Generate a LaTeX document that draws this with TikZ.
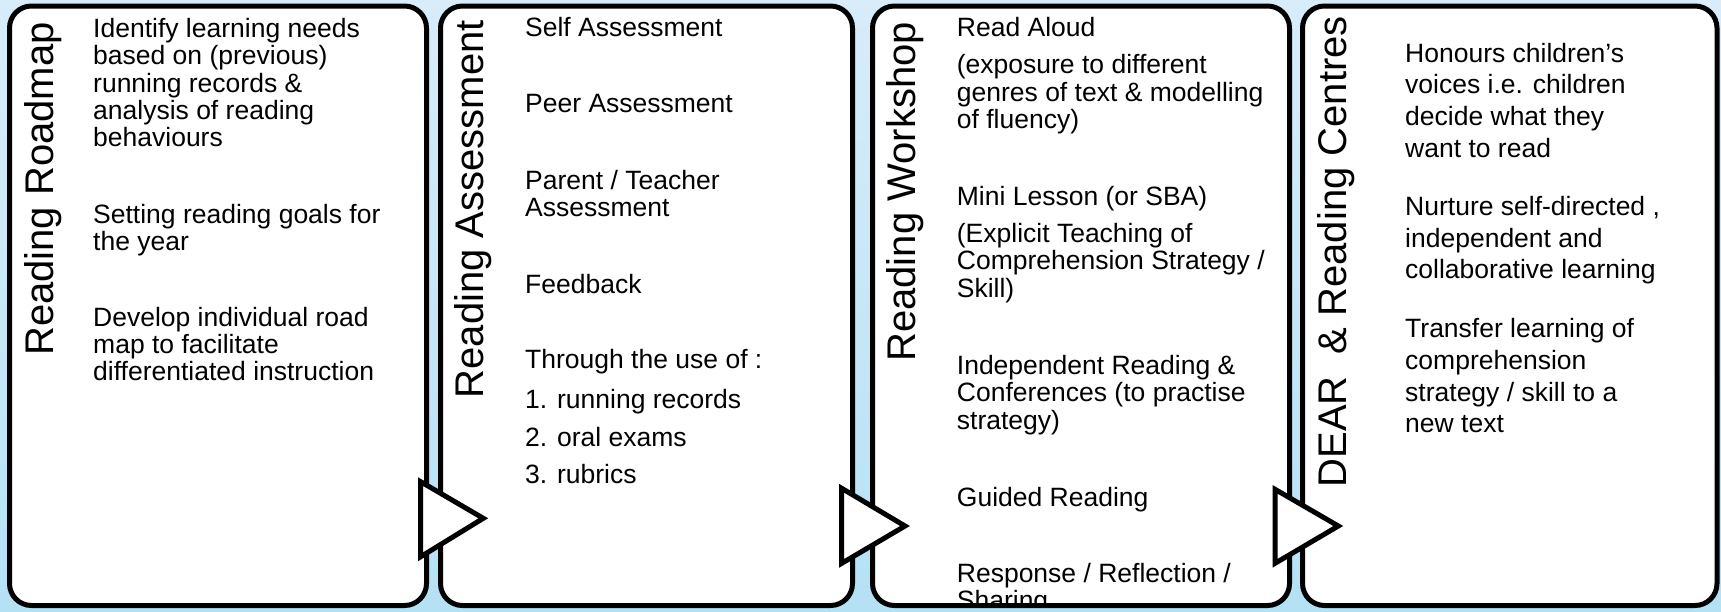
\documentclass[tikz,border=0pt]{standalone}
\usepackage{fontspec}
\setmainfont{Liberation Sans}
\newcommand{\bodyfont}{\fontsize{26.5}{27.2}\selectfont}
\newcommand{\widefont}{\fontsize{26.5}{31.7}\selectfont}
\newcommand{\titlefont}{\fontsize{40}{45}\selectfont}

\begin{document}
\begin{tikzpicture}[x=1pt,y=-1pt,
  panel/.style={draw,line width=5pt,fill=white,rounded corners=22pt,minimum width=#1,minimum height=599.5pt,inner sep=0pt,outer sep=0pt},
  title/.style={rotate=90,anchor=base east,inner sep=0pt,font=\titlefont},
  body/.style={anchor=base west,inner sep=0pt,font=\bodyfont,
    execute at begin node={\begin{minipage}[t]{340pt}\raggedright},
    execute at end node={\end{minipage}}},
  pointer/.style={draw,line width=5pt,fill=white}]
\useasboundingbox (0,0) rectangle (1721,611);
\fill[top color={rgb,255:red,216;green,236;blue,250},bottom color={rgb,255:red,181;green,225;blue,245}] (0,0) rectangle (1721,611);

% the four boards
\node[panel=417pt] (roadmap) at (218,305.75) {};
\node[panel=412pt] (assess) at (646.5,305.75) {};
\node[panel=417pt] (workshop) at (1081,305.75) {};
\node[panel=414.5pt] (dear) at (1509.75,305.75) {};

\node[title] (roadmapTitle) at (53,22) {Reading Roadmap};
\node[title] (assessTitle) at (483,20) {Reading Assessment};
\node[title] (workshopTitle) at (915,22) {Reading Workshop};
\node[title] (dearTitle) at (1346,16) {DEAR\ \ \& Reading Centres};

\node[body] (rmNeeds) at (93,37.7) {Identify learning needs\\ based on (previous)\\ running records \&\\ analysis of reading\\ behaviours};
\node[body] (rmGoals) at (93,223.3) {Setting reading goals for\\ the year};
\node[body] (rmMap) at (93,326.2) {Develop individual road\\ map to facilitate\\ differentiated instruction};

\node[body] (asSelf) at (525,36.9) {Self Assessment};
\node[body] (asPeer) at (525,112.6) {Peer Assessment};
\node[body] (asParent) at (525,189.5) {Parent / Teacher\\ Assessment};
\node[body] (asFeedback) at (525,293.2) {Feedback};
\node[body] (asThrough) at (525,368.9) {Through the use of :};
\node[body] (asOne) at (525,408.5) {1. running records};
\node[body] (asTwo) at (525,446.5) {2. oral exams};
\node[body] (asThree) at (525,483.4) {3. rubrics};

\begin{scope}
\clip (872.5,6) rectangle (1289.5,605);
\node[body] (wsAloud) at (956.7,36.9) {Read Aloud};
\node[body] (wsAloudNote) at (956.7,73.8) {(exposure to different\\ genres of text \& modelling\\ of fluency)};
\node[body] (wsMini) at (956.7,205.8) {Mini Lesson (or SBA)};
\node[body] (wsMiniNote) at (956.7,242.7) {(Explicit Teaching of\\ Comprehension Strategy /\\ Skill)};
\node[body] (wsIndep) at (956.7,374.7) {Independent Reading \&\\ Conferences (to practise\\ strategy)};
\node[body] (wsGuided) at (956.7,506.7) {Guided Reading};
\node[body] (wsResponse) at (956.7,582.5) {Response / Reflection /\\ Sharing};
\end{scope}

\node[body,font=\widefont] (dcVoices) at (1405,62.1) {Honours children’s\\ voices i.e. children\\ decide what they\\ want to read};
\node[body,font=\widefont] (dcNurture) at (1405,215.5) {Nurture self-directed ,\\ independent and\\ collaborative learning};
\node[body,font=\widefont] (dcTransfer) at (1405,337.8) {Transfer learning of\\ comprehension\\ strategy / skill to a\\ new text};

% arrows between boards
\draw[pointer] (420.7,481.7) -- (420.7,556.7) -- (483.3,518.3) -- cycle;
\draw[pointer] (841.7,488.3) -- (841.7,563.3) -- (905,526) -- cycle;
\draw[pointer] (1275,489.3) -- (1275,563.3) -- (1338.3,526) -- cycle;
\end{tikzpicture}
\end{document}
